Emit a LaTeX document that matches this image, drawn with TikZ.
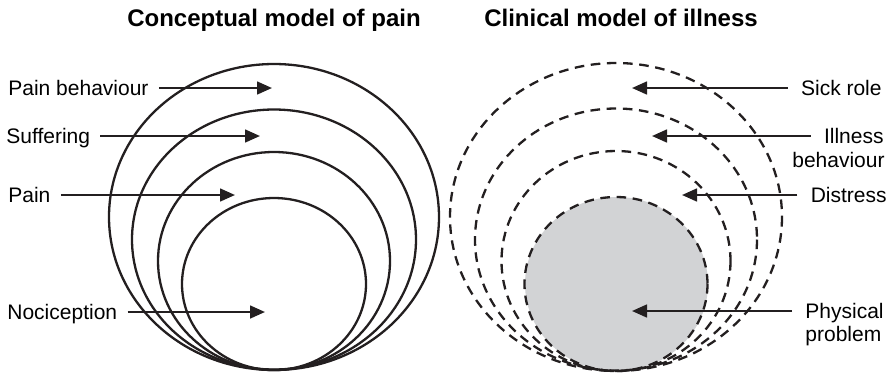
\documentclass[tikz,border=0pt]{standalone}
\usepackage{fontspec}
\setmainfont{Liberation Sans}
\usepackage{xcolor}
\definecolor{colLine}{HTML}{231F20}
\definecolor{colFill}{HTML}{D2D3D5}
\usetikzlibrary{arrows.meta, positioning}

\begin{document}
\begin{tikzpicture}[x=0.5pt, y=-0.5pt,
        lbl/.style={font=\fontsize{10.5}{12}\selectfont, inner sep=0pt, text height=7.5pt, text depth=0pt},
        ttl/.style={font=\fontsize{12}{14}\selectfont\bfseries, inner sep=0pt, text height=8.6pt, text depth=0pt},
        arr/.style={-{Triangle[length=7.5pt, width=6.4pt]}, line width=1.1pt, colLine},
        ring/.style={line width=1.15pt, colLine},
        dring/.style={ring, dash pattern=on 4.8pt off 3.3pt}]
        % Cornice
        \useasboundingbox (0,0) rectangle (895,377);
        % Titoli
        \node[ttl] (ttlLeft) at (274,18) {Conceptual model of pain};
        \node[ttl] (ttlRight) at (621,18) {Clinical model of illness};
        % Modello concettuale (cerchi pieni)
        \foreach \cy/\rx/\ry in {217/165/153, 239.5/142/130, 261/116/109, 284/92/86}{
            \draw[ring] (274,\cy) ellipse [x radius=\rx, y radius=\ry];}
        % Modello clinico (cerchi tratteggiati)
        \fill[colFill] (616.5,284) ellipse [x radius=91.5, y radius=87];
        \foreach \cy/\rx/\ry in {217/166/154, 239.5/141/131, 261/114.5/110, 284/91.5/87}{
            \draw[dring] (616,\cy) ellipse [x radius=\rx, y radius=\ry];}
        % Etichette a sinistra
        \node[lbl, anchor=west] (pbeh) at (8,88) {Pain behaviour};
        \node[lbl, anchor=west] (suff) at (6,136) {Suffering};
        \node[lbl, anchor=west] (pain) at (8,195) {Pain};
        \node[lbl, anchor=west] (noci) at (7,312) {Nociception};
        \coordinate (pbehTip) at (272,88);
        \coordinate (suffTip) at (260,136);
        \coordinate (painTip) at (235,195);
        \coordinate (nociTip) at (265,312);
        \foreach \lab in {pbeh, suff, pain, noci}{
            \draw[arr, shorten <=5pt] (\lab.east) -- (\lab Tip);}
        % Etichette a destra
        \node[lbl, anchor=east] (sick) at (882,88) {Sick role};
        \node[lbl, anchor=east] (ill) at (884,136) {Illness};
        \node[lbl, anchor=east] (illB) at (885,160) {behaviour};
        \node[lbl, anchor=east] (dist) at (887,195) {Distress};
        \node[lbl, anchor=west] (phys) at (805,311) {Physical};
        \node[lbl, anchor=west] (physB) at (805,334) {problem};
        \coordinate (sickTip) at (632,88);
        \coordinate (illTip) at (652,136);
        \coordinate (distTip) at (682,195);
        \coordinate (physTip) at (632,311);
        \foreach \lab in {sick, ill, dist, phys}{
            \draw[arr, shorten <=6.5pt] (\lab.west) -- (\lab Tip);}
    \end{tikzpicture}
\end{document}
